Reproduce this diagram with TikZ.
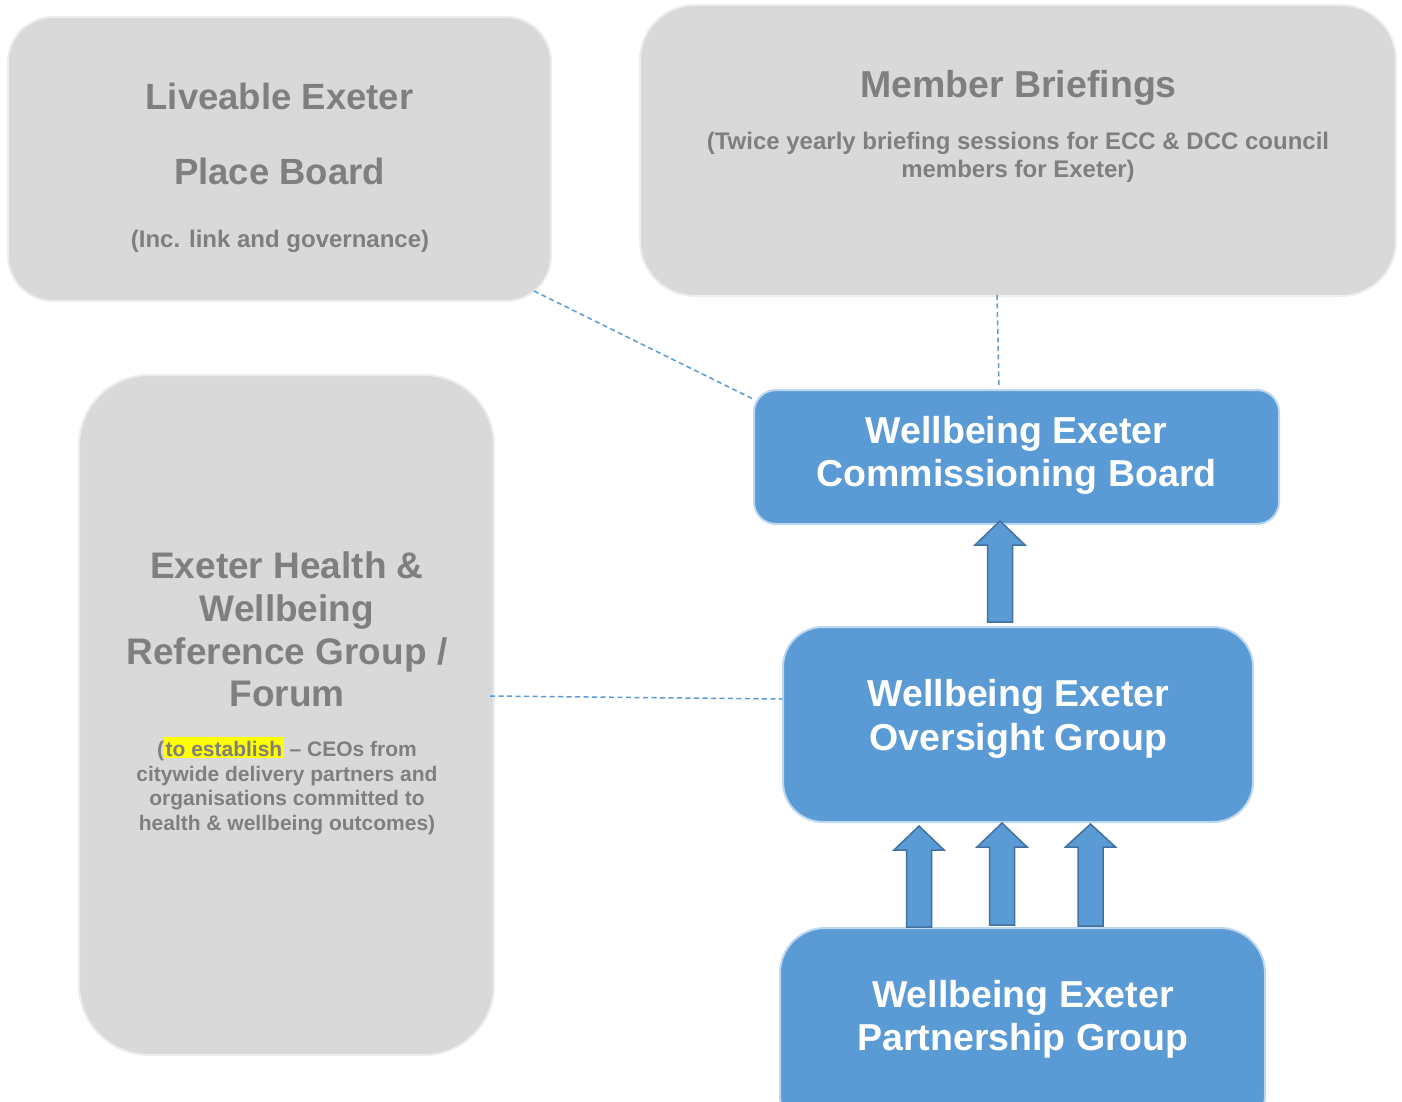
\documentclass[tikz,border=0pt]{standalone}
\usepackage{fontspec}
\setmainfont{Liberation Sans}
\usetikzlibrary{calc}
\definecolor{boxgray}{HTML}{D9D9D9}
\definecolor{edgegray}{HTML}{EDEDED}
\definecolor{textgray}{HTML}{7F7F7F}
\definecolor{wblue}{HTML}{5B9BD5}
\definecolor{wedge}{HTML}{BDD7EE}
\definecolor{arrowedge}{HTML}{41719C}
\definecolor{marker}{HTML}{FFFF00}

% upward block arrow: centre x, tip y, head base y, bottom y
\newcommand{\liftarrow}[4]{%
  \draw[blockarrow] ({#1-12.5},#4) -- ({#1-12.5},#3) -- ({#1-25},#3) -- (#1,#2)
    -- ({#1+25},#3) -- ({#1+12.5},#3) -- ({#1+12.5},#4) -- cycle;}

\begin{document}
\begin{tikzpicture}[x=1pt,y=-1pt,
  graybox/.style={fill=boxgray, draw=edgegray, line width=2pt, inner sep=0pt},
  bluebox/.style={fill=wblue, draw=wedge, line width=2pt, inner sep=0pt},
  graytitle/.style={text=textgray, anchor=base, inner sep=0pt, font=\fontsize{36.5}{42}\selectfont\bfseries},
  graynote/.style={text=textgray, anchor=base, inner sep=0pt, font=\fontsize{24}{28}\selectfont\bfseries},
  graysmall/.style={text=textgray, anchor=base, inner sep=0pt, font=\fontsize{21}{24}\selectfont\bfseries},
  bluetitle/.style={text=white, anchor=base, inner sep=0pt, font=\fontsize{37.5}{43}\selectfont\bfseries},
  linkline/.style={draw=wblue, line width=1.5pt, dash pattern=on 5pt off 3.5pt},
  blockarrow/.style={fill=wblue, draw=arrowedge, line width=1.5pt, line join=miter}]

\useasboundingbox (0,0) rectangle (1402,1102);
\clip (0,0) rectangle (1402,1102);

% boxes
\node[graybox, minimum width=543, minimum height=284, rounded corners=45] (lpb) at (279.5,159) {};
\node[graybox, minimum width=756, minimum height=291, rounded corners=55] (mb) at (1018,150.5) {};
\node[graybox, minimum width=415, minimum height=680, rounded corners=70] (ref) at (286.5,715) {};
\node[bluebox, minimum width=525, minimum height=134, rounded corners=22] (wcb) at (1016.5,457) {};
\node[bluebox, minimum width=470, minimum height=195, rounded corners=40] (wog) at (1018,724.5) {};
\node[bluebox, minimum width=485, minimum height=212, rounded corners=45] (wpg) at (1022.5,1034) {};

% Liveable Exeter Place Board
\node[graytitle] (lpb1) at (279.5,110) {Liveable Exeter};
\node[graytitle] (lpb2) at (279.5,185) {Place Board};
\node[graynote] (lpb3) at (280,247) {(Inc. link and governance)};

% Member Briefings
\node[graytitle, font=\fontsize{37.5}{43}\selectfont\bfseries] (mb1) at (1018.5,98) {Member Briefings};
\node[graynote] (mb2) at (1018,150) {(Twice yearly briefing sessions for ECC \& DCC council};
\node[graynote] (mb3) at (1018,178) {members for Exeter)};

% Reference Group / Forum
\node[graytitle, font=\fontsize{37}{43}\selectfont\bfseries] (ref1) at (287,578) {Exeter Health \&};
\node[graytitle, font=\fontsize{37}{43}\selectfont\bfseries] (ref2) at (287,621) {Wellbeing};
\node[graytitle, font=\fontsize{37}{43}\selectfont\bfseries] (ref3) at (287,664) {Reference Group /};
\node[graytitle, font=\fontsize{37}{43}\selectfont\bfseries] (ref4) at (287,706) {Forum};
\node[graysmall] (ref5) at (287,756) {(\setlength{\fboxsep}{0pt}\colorbox{marker}{\rule[-2pt]{0pt}{21pt}\hspace{1.5pt}to establish\hspace{1.5pt}} – CEOs from};
\node[graysmall] (ref6) at (287,781) {citywide delivery partners and};
\node[graysmall] (ref7) at (287,805) {organisations committed to};
\node[graysmall] (ref8) at (287,830) {health \& wellbeing outcomes)};

% Wellbeing Exeter groups
\node[bluetitle] (wcb1) at (1016.5,443) {Wellbeing Exeter};
\node[bluetitle] (wcb2) at (1016.5,486) {Commissioning Board};
\node[bluetitle] (wog1) at (1018.5,706) {Wellbeing Exeter};
\node[bluetitle] (wog2) at (1018.5,750) {Oversight Group};
\node[bluetitle] (wpg1) at (1023,1007) {Wellbeing Exeter};
\node[bluetitle] (wpg2) at (1023,1050) {Partnership Group};

% dashed links
\draw[linkline] ($(lpb.south east)+(-18,-11)$) -- ($(wcb.north west)+(0,10)$);
\draw[linkline] ($(mb.south)+(-21,-2)$) -- ($(wcb.north)+(-17.5,-2)$);
\draw[linkline] ($(ref.east)+(-5,-19)$) -- ($(wog.west)+(0,-25.5)$);

% reporting arrows
\liftarrow{1000}{521}{545}{622}
\liftarrow{919}{826}{850}{927}
\liftarrow{1002}{823}{847}{925}
\liftarrow{1090.5}{824}{847}{926}

\end{tikzpicture}
\end{document}
